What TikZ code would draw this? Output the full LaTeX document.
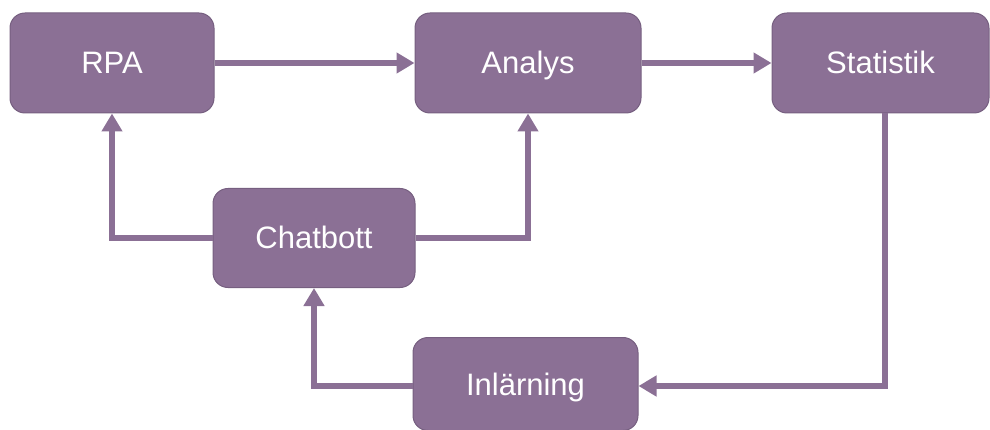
\documentclass[tikz,border=0pt]{standalone}
\usepackage{fontspec}
\setmainfont{Liberation Sans}
\usetikzlibrary{arrows.meta}
\definecolor{boxfill}{HTML}{8B7095}
\definecolor{boxline}{HTML}{765F80}
\begin{document}
\begin{tikzpicture}[x=1pt,y=-1pt,
  stage/.style={draw=boxline, line width=1pt, fill=boxfill, rounded corners=15pt,
    text=white, font=\fontsize{31}{36}\selectfont, inner sep=0pt,
    text height=22pt, text depth=0pt},
  flow/.style={draw=boxfill, line width=6pt,
    -{Triangle[length=18pt,width=20pt]}}]
\useasboundingbox (0,0) rectangle (990,430);
\node[stage, minimum width=204pt, minimum height=100pt] (rpa) at (112,63) {RPA};
\node[stage, minimum width=226pt, minimum height=100pt] (analys) at (528,63) {Analys};
\node[stage, minimum width=217pt, minimum height=100pt] (stat) at (880.5,63) {Statistik};
\node[stage, minimum width=202pt, minimum height=99pt] (chat) at (314,238) {Chatbott};
\node[stage, minimum width=225pt, minimum height=93pt] (inl) at (525.5,384) {Inlärning};
\draw[flow] (rpa.east) -- (analys.west);
\draw[flow] (analys.east) -- (stat.west);
\draw[flow] (chat.west) -| (rpa.south);
\draw[flow] (chat.east) -| (analys.south);
\draw[flow] ([xshift=4pt]stat.south) |- ([yshift=-2pt]inl.east);
\draw[flow] ([yshift=-2pt]inl.west) -| (chat.south);
\end{tikzpicture}
\end{document}
